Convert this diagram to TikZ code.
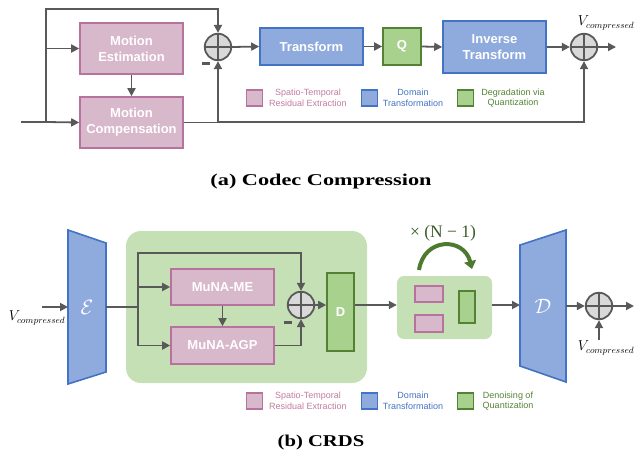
\documentclass[tikz,border=0pt]{standalone}
\usepackage{fontspec}
\setmainfont{Liberation Serif}
\setsansfont{Liberation Sans}
\newfontfamily\capfont[FakeStretch=1.25]{Liberation Serif}
\newfontfamily\capfonta[FakeStretch=1.35]{Liberation Serif}
\usetikzlibrary{arrows.meta}
\definecolor{pinkfill}{HTML}{D8B8CB}
\definecolor{pinkdraw}{HTML}{B7739E}
\definecolor{bluefill}{HTML}{8FAADC}
\definecolor{bluedraw}{HTML}{4472C4}
\definecolor{greenfill}{HTML}{A9D18E}
\definecolor{greendraw}{HTML}{548235}
\definecolor{bgfill}{HTML}{C5E0B4}
\definecolor{linegray}{HTML}{595959}
\definecolor{circgray}{HTML}{D9D9D9}
\definecolor{legpink}{HTML}{C27BA0}
\definecolor{darkgreen}{HTML}{4E7A2F}
\definecolor{ntext}{HTML}{3D5A2A}
\begin{document}
\begin{tikzpicture}[x=1pt,y=-1pt,
  line/.style={draw=linegray, line width=1.8pt},
  arr/.style={line, -{Triangle[length=8pt,width=8pt]}},
  box/.style={draw, line width=1.6pt, inner sep=0pt, align=center, text=white, font=\sffamily\bfseries\fontsize{13}{16}\selectfont},
  pinkbox/.style={box, fill=pinkfill, draw=pinkdraw},
  bluebox/.style={box, fill=bluefill, draw=bluedraw},
  greenbox/.style={box, fill=greenfill, draw=greendraw},
  sumnode/.style={circle, draw=linegray, fill=circgray, line width=1.8pt, minimum size=26.5pt, inner sep=0pt,
    path picture={\draw[line width=1.8pt, linegray] (path picture bounding box.north) -- (path picture bounding box.south) (path picture bounding box.west) -- (path picture bounding box.east);}},
  legsq/.style={minimum size=16pt, inner sep=0pt, line width=1.6pt},
  legtxt/.style={font=\sffamily\fontsize{9}{10.5}\selectfont, align=center},
  vlab/.style={font=\fontsize{13.5}{15}\selectfont, inner sep=0pt},
  minus/.style={text=linegray, inner sep=0pt},
  trap/.style={fill=bluefill, draw=bluedraw, line width=1.6pt, line join=miter},
  caption/.style={font=\capfont\bfseries\fontsize{16.5}{18}\selectfont},
  captiona/.style={font=\capfonta\bfseries\fontsize{16.5}{18}\selectfont}
]
\useasboundingbox (0,0) rectangle (634,455);

% ---------------- (a) ----------------
\node[pinkbox, minimum width=103pt, minimum height=51pt] (me) at (131.5,48.5) {Motion\\Estimation};
\node[pinkbox, minimum width=103pt, minimum height=51pt] (mc) at (131.5,122.5) {Motion\\Compensation};
\node[sumnode] (s1) at (218,47) {};
\node[bluebox, minimum width=103pt, minimum height=37pt] (tr) at (311.5,46.5) {Transform};
\node[greenbox, minimum width=38pt, minimum height=37pt] (q) at (402,46.5) {Q};
\node[bluebox, minimum width=103pt, minimum height=52pt] (itr) at (494.5,47) {Inverse\\Transform};
\node[sumnode] (s2) at (584,47) {};
\node[vlab] (v1) at (606,23) {$V_{compressed}$};
\node[minus] (m1) at (206,63) {\rule{7.5pt}{3pt}};

\coordinate (ain) at (21,122);
\coordinate (ab) at (46,122);
\coordinate (atop) at (46,9);
\coordinate (aj) at (218,122);
\coordinate (aout) at (616,47);

\draw[line] (ain) -- (ab);
\draw[arr] (ab) -- (mc.west);
\draw[arr] (ab) |- (me.west);
\draw[arr] (ab) -- (atop) -| (s1.north);
\draw[arr] (me.south) -- (mc.north);
\draw[arr] (mc.east) -| (s1.south);
\draw[arr] (aj) -| (s2.south);
\draw[arr] (s1.east) -- (tr.west);
\draw[arr] (tr.east) -- (q.west);
\draw[arr] (q.east) -- (itr.west);
\draw[arr] (itr.east) -- (s2.west);
\draw[arr] (s2.east) -- (aout);

% legend (a)
\node[legsq, fill=pinkfill, draw=pinkdraw] (la1) at (254.5,98) {};
\node[legtxt, text=legpink] (lt1) at (308,98) {Spatio-Temporal\\Residual Extraction};
\node[legsq, fill=bluefill, draw=bluedraw] (la2) at (369.5,98) {};
\node[legtxt, text=bluedraw] (lt2) at (413,98) {Domain\\Transformation};
\node[legsq, fill=greenfill, draw=greendraw] (la3) at (465.5,98) {};
\node[legtxt, text=greendraw] (lt3) at (513,98) {Degradation via\\Quantization};

\node[captiona] (capa) at (321,182) {(a) Codec Compression};

% ---------------- (b) ----------------
\fill[bgfill, rounded corners=15pt] (126,231) rectangle (367,383);

\draw[trap] (68,230) -- (106,243) -- (106,372) -- (68,384) -- cycle;
\node[text=white, font=\fontsize{22}{22}\selectfont] (E) at (87,307) {$\mathcal{E}$};
\coordinate (Ein) at (68,307);
\coordinate (Eout) at (106,307);

\node[pinkbox, minimum width=103pt, minimum height=36pt] (mme) at (222.5,287) {MuNA-ME};
\node[pinkbox, minimum width=103pt, minimum height=37pt] (magp) at (222.5,345.5) {MuNA-AGP};
\node[sumnode] (s3) at (301,305) {};
\node[minus] (m2) at (288,322.5) {\rule{7.5pt}{3pt}};
\node[greenbox, minimum width=27pt, minimum height=78pt] (D) at (340.5,312) {D};

\node[fill=bgfill, rounded corners=7pt, minimum width=95pt, minimum height=63pt, inner sep=0pt] (sb) at (444.5,307.5) {};
\node[fill=pinkfill, draw=pinkdraw, line width=1.6pt, minimum width=28pt, minimum height=16pt, inner sep=0pt] (sp1) at (429,294) {};
\node[fill=pinkfill, draw=pinkdraw, line width=1.6pt, minimum width=28pt, minimum height=17pt, inner sep=0pt] (sp2) at (429,323.5) {};
\node[fill=greenfill, draw=greendraw, line width=1.6pt, minimum width=16pt, minimum height=32pt, inner sep=0pt] (sg) at (467,307) {};

\coordinate (ca) at (419,270);
\coordinate (cb) at (472,269);
\draw[darkgreen, line width=4pt, -{Triangle[length=8pt,width=12pt]}] (ca) .. controls (424,237) and (464,237) .. (cb);
\node[text=ntext, font=\fontsize{17.5}{18}\selectfont] (nl) at (443,233) {× (N − 1)};

\draw[trap] (520,245) -- (566,230) -- (566,382) -- (520,366) -- cycle;
\node[text=white, font=\fontsize{22}{22}\selectfont] (Dd) at (543,306) {$\mathcal{D}$};
\coordinate (Din) at (520,305);
\coordinate (Dout) at (566,306);

\node[sumnode] (s4) at (599,306) {};
\coordinate (bout) at (634,306);
\coordinate (vbot) at (599,340);
\node[vlab] (v2) at (606,348) {$V_{compressed}$};
\coordinate (vin) at (42,307);
\node[vlab] (v3) at (37,318) {$V_{compressed}$};

\coordinate (b2) at (138,307);
\coordinate (btop) at (138,253);

\draw[arr] (vin) -- (Ein);
\draw[line] (Eout) -- (b2);
\draw[arr] (b2) |- (mme.west);
\draw[arr] (b2) |- (magp.west);
\draw[arr] (b2) -- (btop) -| (s3.north);
\draw[arr] (mme.south) -- (magp.north);
\draw[arr] (magp.east) -| (s3.south);
\draw[arr] (s3.east) -- (s3.east -| D.west);
\draw[arr] (s3.east -| D.east) -- (s3.east -| sb.west);
\draw[arr] (s3.east -| sb.east) -- (Din);
\draw[arr] (Dout) -- (s4.west);
\draw[arr] (s4.east) -- (bout);
\draw[arr] (vbot) -- (s4.south);

% legend (b)
\node[legsq, fill=pinkfill, draw=pinkdraw] (lb1) at (254.5,401) {};
\node[legtxt, text=legpink] (ltb1) at (308,401) {Spatio-Temporal\\Residual Extraction};
\node[legsq, fill=bluefill, draw=bluedraw] (lb2) at (369.5,401) {};
\node[legtxt, text=bluedraw] (ltb2) at (413,401) {Domain\\Transformation};
\node[legsq, fill=greenfill, draw=greendraw] (lb3) at (465.5,401) {};
\node[legtxt, text=greendraw] (ltb3) at (508,401) {Denoising of\\Quantization};

\node[caption] (capb) at (321,443) {(b) CRDS};
\end{tikzpicture}
\end{document}
